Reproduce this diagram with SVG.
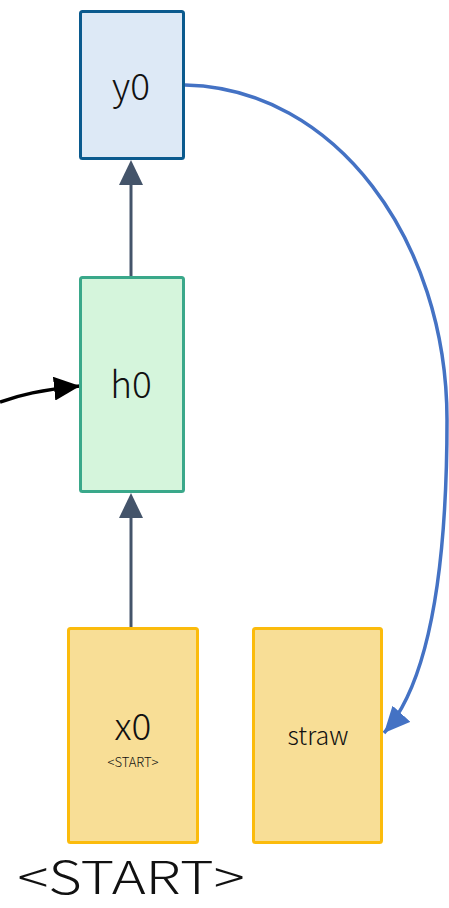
<svg xmlns="http://www.w3.org/2000/svg" width="449" height="908" viewBox="0 0 449 908">
<defs>
<style>
.t{font-family:"Noto Sans CJK JP","Noto Sans",sans-serif;font-weight:300;fill:#111;text-anchor:middle}
.c{fill:none;stroke-width:3.5}
</style>
<marker id="ab" markerWidth="26" markerHeight="24" refX="26" refY="12" orient="auto" markerUnits="userSpaceOnUse"><path d="M0,0L26,12L0,24z" fill="#000"/></marker>
<marker id="abl" markerWidth="26" markerHeight="24" refX="26" refY="12" orient="auto" markerUnits="userSpaceOnUse"><path d="M0,0L26,12L0,24z" fill="#4472c4"/></marker>
</defs>
<rect width="449" height="908" fill="#fff"/>
<g id="connectors">
<line x1="131" y1="628" x2="131" y2="518" stroke="#44546a" stroke-width="3"/>
<polygon points="131,493 143,518 119,518" fill="#44546a"/>
<line x1="131" y1="277" x2="131" y2="184" stroke="#44546a" stroke-width="3"/>
<polygon points="131,160 143,185 119,185" fill="#44546a"/>
<path class="c" d="M0,402 C20,395 40,390 80,386" stroke="#000" marker-end="url(#ab)"/>
<path class="c" d="M185,85 C335,88 447,240 447,420 C447,560 432,680 384,733" stroke="#4472c4" marker-end="url(#abl)"/>
</g>
<g id="y0">
<rect x="80.5" y="11.5" width="103" height="147" rx="2" fill="#dde9f6" stroke="#0a5a8e" stroke-width="3"/>
<text class="t" x="131" y="100" font-size="37">y0</text>
</g>
<g id="h0">
<rect x="80.5" y="277.5" width="103" height="214" rx="2" fill="#d5f5dc" stroke="#3aa88a" stroke-width="3"/>
<text class="t" x="131" y="398" font-size="37">h0</text>
</g>
<g id="x0">
<rect x="68.5" y="628.5" width="129" height="214" rx="2" fill="#f8de96" stroke="#fbbb0c" stroke-width="3"/>
<text class="t" x="133" y="740" font-size="37">x0</text>
<text class="t" x="133" y="767" font-size="13">&lt;START&gt;</text>
</g>
<g id="straw">
<rect x="253.5" y="628.5" width="128" height="214" rx="2" fill="#f8de96" stroke="#fbbb0c" stroke-width="3"/>
<text class="t" x="318" y="745" font-size="25">straw</text>
</g>
<g id="label">
<text class="t" x="131" y="894" font-size="45" textLength="227" lengthAdjust="spacingAndGlyphs">&lt;START&gt;</text>
</g>
</svg>
